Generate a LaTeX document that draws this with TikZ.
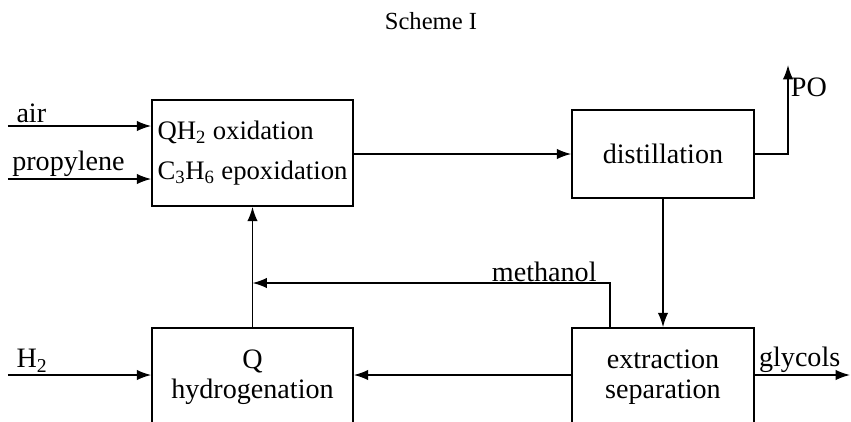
\documentclass[tikz,border=0pt]{standalone}
\usepackage{fontspec}
\setmainfont{Liberation Serif}
\usetikzlibrary{arrows.meta}

\begin{document}
\begin{tikzpicture}[
    box/.style={rectangle, draw, line width=1.1pt, font=\fontsize{20}{21}\selectfont},
    arrow/.style={-{Latex[length=3.6mm,width=2.6mm]}, line width=1.1pt},
    stream/.style={font=\fontsize{20}{24}\selectfont, inner sep=1.5pt}
]
    \useasboundingbox (0,0) rectangle (21.275,10.525);
    \clip (0,0) rectangle (21.275,10.525);

    \node[font=\fontsize{17.5}{20}\selectfont] (title) at (10.775,10.0) {Scheme I};

    % process units
    \node[box, minimum width=5.025cm, minimum height=2.65cm, align=left,
          font=\fontsize{19}{21}\selectfont] (oxid) at (6.3125,6.7)
          {QH\textsubscript{2} oxidation\\[7pt]C\textsubscript{3}H\textsubscript{6} epoxidation};
    \node[box, minimum width=4.55cm, minimum height=2.2cm] (dist) at (16.575,6.675) {distillation};
    \node[box, minimum width=5.025cm, minimum height=2.45cm, align=center] (hydro) at (6.3125,1.1) {Q\\hydrogenation};
    \node[box, minimum width=4.55cm, minimum height=2.45cm, align=center] (extr) at (16.575,1.1) {extraction\\separation};

    % free ends of the streams
    \coordinate (airin) at (0.2,7.375);
    \coordinate (propin) at (0.2,6.05);
    \coordinate (h2in) at (0.2,1.15);
    \coordinate (potop) at (19.7,8.9);
    \coordinate (meth) at (15.25,3.45);
    \coordinate (glyout) at (21.25,1.15);

    % feeds
    \draw[arrow] (airin) -- node[stream, pos=0, anchor=south west, xshift=4pt] (airtxt) {air} (airin -| oxid.west);
    \draw[arrow] (propin) -- node[stream, pos=0, anchor=south west, xshift=1pt] (proptxt) {propylene} (propin -| oxid.west);
    \draw[arrow] (h2in) -- node[stream, pos=0, anchor=south west, xshift=4pt] (h2txt) {H\textsubscript{2}} (h2in -| hydro.west);

    % main loop
    \draw[arrow] (dist.west -| oxid.east) -- (dist.west);
    \draw[arrow] (dist.east) -- (dist.east -| potop) -- node[stream, pos=0.75, anchor=west] (potxt) {PO} (potop);
    \draw[arrow] (dist.south) -- (extr.north);
    \draw[arrow] (extr.west |- h2in) -- (hydro.east |- h2in);
    \draw[arrow] (hydro.north) -- (oxid.south);
    \draw[arrow] (extr.north -| meth) -- (meth) -- node[stream, pos=0, anchor=south east, inner sep=0pt, xshift=-9pt] (methtxt) {methanol} (hydro.north |- meth);
    \draw[arrow] (extr.east |- glyout) -- node[stream, pos=0, anchor=south west, xshift=1pt] (glytxt) {glycols} (glyout);
\end{tikzpicture}
\end{document}
